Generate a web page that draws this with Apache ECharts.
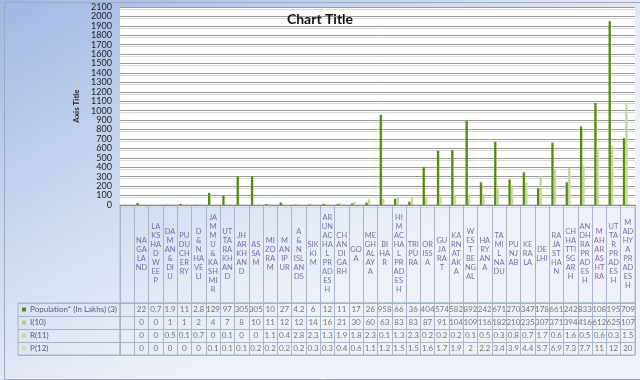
<!DOCTYPE html>
<html>
<head>
<meta charset="utf-8">
<script src="https://cdn.jsdelivr.net/npm/echarts@6/dist/echarts.min.js"></script>
<style>html,body{margin:0;padding:0;}#c{width:640px;height:380px;}</style>
</head>
<body>
<div id="c"></div>
<script>
// Category labels as wrapped in the data-table header ('|' = line break); first column is blank
const categories = ['', 'NA|GA|LA|ND', 'LA|KS|HA|D|W|EE|P', 'DA|M|AN|&|DI|U', 'PU|DU|CH|ER|RY', 'D|&|N|HA|VE|LI',
  'JA|M|M|U|&|KA|SH|MI|R', 'UT|TA|RA|KH|AN|D', 'JH|AR|KH|AN|D', 'AS|SA|M', 'MI|ZO|RA|M', 'M|AN|IP|UR',
  'A|&|N|ISL|AN|DS', 'SIK|KI|M', 'AR|UN|AC|HA|L|PR|AD|ES|H', 'CH|AN|DI|GA|RH', 'GO|A', 'ME|GH|AL|AY|A',
  'BI|HA|R', 'HI|M|AC|HA|L|PR|AD|ES|H', 'TRI|PU|RA', 'OR|ISS|A', 'GU|JA|RA|T', 'KA|RN|AT|AK|A',
  'W|ES|T|BE|NG|AL', 'HA|RY|AN|A', 'TA|MI|L|NA|DU', 'PU|NJ|AB', 'KE|RA|LA', 'DE|LHI', 'RA|JA|ST|HA|N',
  'CH|HA|TTI|SG|AR|H', 'AN|DH|RA|PR|AD|ES|H', 'M|AH|AR|AS|HT|RA', 'UT|TA|R|PR|AD|ES|H', 'M|AD|HY|A|PR|AD|ES|H'];

const seriesNames = ['Population* (In Lakhs) (3)', 'I(10)', 'R(11)', 'P(12)'];

const population = [22, 0.7, 1.9, 11, 2.8, 129, 97, 305, 305, 10, 27, 4.2, 6, 12, 11, 17, 26, 958, 66, 36,
  404, 574, 582, 892, 242, 671, 270, 347, 178, 661, 242, 833, 1082, 1950, 709];
const seriesI = [0, 0, 1, 1, 2, 4, 7, 8, 10, 11, 12, 12, 14, 16, 21, 30, 60, 63, 83, 83,
  87, 91, 104, 109, 116, 182, 210, 235, 307, 371, 394, 416, 612, 625, 1070];
const seriesR = [0, 0, 0.5, 0.1, 0.7, 0, 0.1, 0, 0, 1.1, 0.4, 2.8, 2.3, 1.3, 1.9, 1.8, 2.3, 0.1, 1.3, 2.3,
  0.2, 0.2, 0.2, 0.1, 0.5, 0.3, 0.8, 0.7, 1.7, 0.6, 1.6, 0.5, 0.6, 0.3, 1.5];
const seriesP = [0, 0, 0, 0, 0, 0.1, 0.1, 0.1, 0.2, 0.2, 0.2, 0.2, 0.3, 0.3, 0.4, 0.6, 1.1, 1.2, 1.5, 1.5,
  1.6, 1.7, 1.9, 2, 2.2, 3.4, 3.9, 4.4, 5.7, 6.9, 7.3, 7.7, 11, 12, 20];

const yTicks = {min: 0, max: 2100, interval: 100};

const allSeries = [population, seriesI, seriesR, seriesP];
const colors = ['#5a8714', '#c2d69a', '#d5e3bb', '#e6eed8'];
const colorsHi = ['#83ad3c', '#dbe8c4', '#e6efd6', '#f1f6ea'];

const FONT = 'Lato';
const chart = echarts.init(document.getElementById('c'));

const barSeries = allSeries.map((arr, k) => ({
  type: 'bar', name: seriesNames[k], xAxisIndex: 0, yAxisIndex: 0,
  data: [null].concat(arr), barWidth: 2.5, barGap: '0%',
  itemStyle: {color: new echarts.graphic.LinearGradient(0, 0, 1, 0, [
    {offset: 0, color: colors[k]}, {offset: 0.6, color: colors[k]}, {offset: 1, color: colorsHi[k]}])},
  silent: true
}));

const headerData = categories.map((c, i) => [i, 0.5, c.split('|').join('\n')]);
const valueData = [];
allSeries.forEach((arr, r) => arr.forEach((v, j) => valueData.push([j + 1, r, v])));

const lineCol = '#a9b4c8';
const catAxisCommon = {
  type: 'category', data: categories, boundaryGap: true,
  axisLabel: {show: false}, axisTick: {show: false}, axisLine: {show: false}
};

chart.setOption({
  backgroundColor: new echarts.graphic.LinearGradient(0, 0, 0.35, 1, [
    {offset: 0, color: '#9fb8e3'}, {offset: 0.45, color: '#c9d7ef'}, {offset: 0.8, color: '#e6ecf6'}, {offset: 1, color: '#eef2f8'}]),
  animation: false,
  title: {text: 'Chart Title', left: 'center', top: 7,
    textStyle: {fontFamily: FONT, fontSize: 14, fontWeight: 'bold', color: '#111'}},
  grid: [
    {left: 120, right: 5, top: 7, height: 198, show: true, backgroundColor: '#fff', borderWidth: 0},
    {left: 120, right: 5, top: 205, height: 98, show: true, borderColor: lineCol, borderWidth: 1},
    {left: 120, right: 5, top: 303, height: 52, show: true, borderColor: lineCol, borderWidth: 1},
    {left: 18, width: 102, top: 303, height: 52, show: true, borderColor: lineCol, borderWidth: 1}
  ],
  xAxis: [
    Object.assign({}, catAxisCommon, {gridIndex: 0, axisLine: {show: true, lineStyle: {color: '#8c8c8c'}}}),
    Object.assign({}, catAxisCommon, {gridIndex: 1, splitLine: {show: true, interval: 0, lineStyle: {color: lineCol}}}),
    Object.assign({}, catAxisCommon, {gridIndex: 2, splitLine: {show: true, interval: 0, lineStyle: {color: lineCol}}}),
    {type: 'value', gridIndex: 3, show: false, min: 0, max: 1}
  ],
  yAxis: [
    {type: 'value', gridIndex: 0, min: yTicks.min, max: yTicks.max, interval: yTicks.interval,
      name: 'Axis Title', nameLocation: 'middle', nameGap: 31, nameRotate: 90,
      nameTextStyle: {fontFamily: FONT, fontSize: 8, fontWeight: 'bold', color: '#222'},
      axisLine: {show: false}, axisTick: {show: false},
      axisLabel: {fontFamily: FONT, fontSize: 9, color: '#222', margin: 8, formatter: v => String(v)},
      splitLine: {lineStyle: {color: '#9a9a9a', shadowColor: '#d8d8d8', shadowOffsetY: 2}}},
    {type: 'value', gridIndex: 1, min: 0, max: 1, show: false},
    {type: 'category', gridIndex: 2, data: seriesNames, inverse: true, boundaryGap: true,
      axisLabel: {show: false}, axisTick: {show: false}, axisLine: {show: false},
      splitLine: {show: true, interval: 0, lineStyle: {color: lineCol}}},
    {type: 'category', gridIndex: 3, data: seriesNames, inverse: true, boundaryGap: true,
      axisTick: {show: false}, axisLine: {show: false},
      splitLine: {show: true, interval: 0, lineStyle: {color: lineCol}},
      axisLabel: {inside: true, margin: 4, align: 'left', fontFamily: FONT, fontSize: 8, color: '#5a5a6e',
        formatter: (v, i) => '{s' + i + '| }  ' + v,
        rich: {
          s0: {width: 4, height: 4, backgroundColor: colors[0]},
          s1: {width: 4, height: 4, backgroundColor: '#b3cb85'},
          s2: {width: 4, height: 4, backgroundColor: '#c3d69b'},
          s3: {width: 4, height: 4, backgroundColor: '#cddfab'}
        }}}
  ],
  series: barSeries.concat([
    {type: 'scatter', xAxisIndex: 1, yAxisIndex: 1, data: headerData, symbolSize: 1,
      itemStyle: {color: 'rgba(0,0,0,0)'}, silent: true,
      label: {show: true, position: 'inside', formatter: p => p.value[2],
        fontFamily: FONT, fontSize: 7.5, lineHeight: 9, color: '#574e8c', align: 'center'}},
    {type: 'scatter', xAxisIndex: 2, yAxisIndex: 2, data: valueData, symbolSize: 1,
      itemStyle: {color: 'rgba(0,0,0,0)'}, silent: true,
      label: {show: true, position: 'inside', formatter: p => String(p.value[2]),
        fontFamily: FONT, fontSize: 8, color: '#555', width: 16, overflow: 'truncate', ellipsis: ''}}
  ]),
  graphic: [{type: 'rect', left: 2, top: 0, shape: {width: 636, height: 377},
    style: {fill: 'none', stroke: '#9ea9bb', lineWidth: 1}, silent: true}]
});
</script>
</body>
</html>
